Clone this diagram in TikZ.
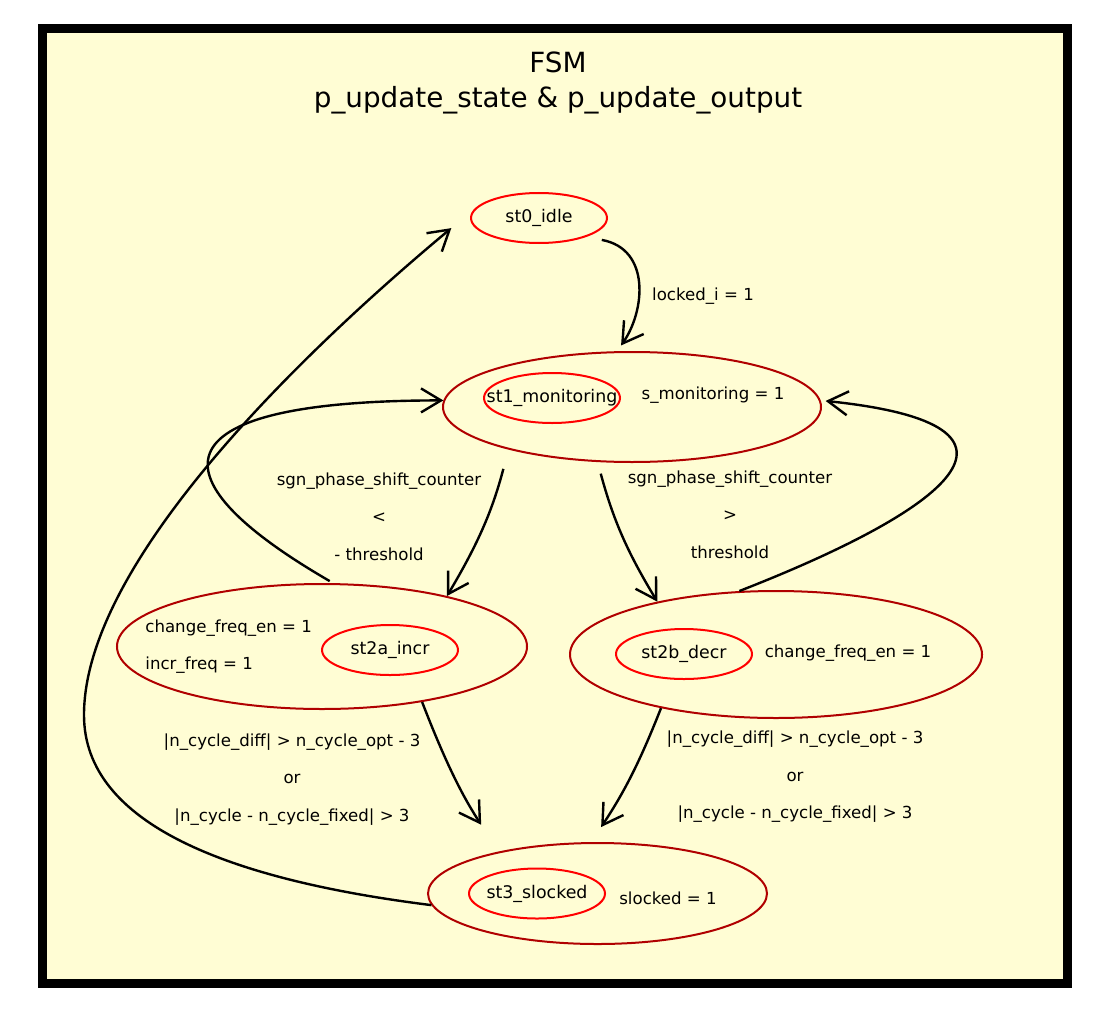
\documentclass[tikz,border=0pt]{standalone}
\usepackage{fontspec}
\setmainfont{DejaVu Sans}
\definecolor{fsmBg}{HTML}{FFFDD4}
\definecolor{fsmRed}{HTML}{FF0000}
\definecolor{fsmDark}{HTML}{B00000}
\usetikzlibrary{arrows.meta,shapes.geometric}

\tikzset{
  stName/.style={ellipse, draw=fsmRed, line width=1pt, minimum width=68pt, minimum height=25pt,
    inner xsep=-12pt, inner ysep=0pt, font=\fontsize{8.7}{10}\selectfont},
  stBox/.style={ellipse, draw=fsmDark, line width=1pt, inner sep=0pt},
  outTxt/.style={inner sep=0pt, align=left, font=\fontsize{8.3}{18.5}\selectfont},
  condTxt/.style={inner sep=0pt, align=center, font=\fontsize{8.3}{18.75}\selectfont},
  trans/.style={line width=1.2pt, -{Straight Barb[length=10pt,width=12pt,line width=1.2pt]}},
}

\begin{document}
\begin{tikzpicture}[x=0.5pt, y=-0.5pt]
  \useasboundingbox (0,0) rectangle (1106,1027);
  % frame + title
  \draw[line width=4.5pt, fill=fsmBg] (42.5,28.5) rectangle (1067.5,983);
  \node[align=center, font=\fontsize{13.9}{17.5}\selectfont] (title) at (558,83) {FSM\\p\_update\_state \& p\_update\_output};

  % states
  \node[stName] (st0) at (539,218) {st0\_idle};

  \node[stBox, minimum width=189pt, minimum height=55pt] (st1Out) at (632,407) {};
  \node[stName] (st1) at (552,398) {st1\_monitoring};
  \node[outTxt] (st1Set) at (713,395) {s\_monitoring = 1};

  \node[stBox, minimum width=205pt, minimum height=62.5pt] (st2aOut) at (322,646.5) {};
  \node[stName] (st2a) at (390,650) {st2a\_incr};
  \node[outTxt, anchor=west] (st2aSet) at (145,646.5) {change\_freq\_en = 1\\incr\_freq = 1};

  \node[stBox, minimum width=206pt, minimum height=63.5pt] (st2bOut) at (776,654.5) {};
  \node[stName] (st2b) at (684,654) {st2b\_decr};
  \node[outTxt] (st2bSet) at (848,653) {change\_freq\_en = 1};

  \node[stBox, minimum width=169.5pt, minimum height=50.5pt] (st3Out) at (597.5,893.5) {};
  \node[stName] (st3) at (537,893.5) {st3\_slocked};
  \node[outTxt] (st3Set) at (668,898) {slocked = 1};

  % transitions
  \draw[trans, shorten <=8pt, shorten >=3.5pt] (st0.-22) .. controls +(65,12) and +(28,-40) .. (st1Out.105);
  \draw[trans, shorten <=10pt] (st1Out.-161) to[bend left=8] (st2aOut.22);
  \draw[trans, shorten <=6pt] (st1Out.-122) to[bend right=8] (st2bOut.156);
  \draw[trans, shorten <=2pt] (st2aOut.80) .. controls +(-190,-110) and +(-280,0) .. (st1Out.178);
  \draw[trans, shorten >=2.5pt] (st2bOut.120) .. controls +(205,-80) and +(240,25) .. (st1Out.2);
  \draw[trans, shorten >=16pt] (st2aOut.-29) to[bend right=6] (st3Out.157);
  \draw[trans, shorten >=9pt] (st2bOut.-155) to[bend left=6] (st3Out.97);
  \draw[trans, shorten >=15pt] (st3Out.184) .. controls +(-200,-25) and +(0,110) .. (84,715)
    .. controls +(0,-150) and +(-180,150) .. (st0.172);

  % conditions
  \node[condTxt] (c01) at (703,296) {locked\_i = 1};
  \node[condTxt] (c12a) at (379,516.5) {sgn\_phase\_shift\_counter\\<\\- threshold};
  \node[condTxt] (c12b) at (730,514.5) {sgn\_phase\_shift\_counter\\>\\threshold};
  \node[condTxt] (c23a) at (292,779.5) {|n\_cycle\_diff| > n\_cycle\_opt - 3\\or\\|n\_cycle - n\_cycle\_fixed| > 3};
  \node[condTxt] (c23b) at (795,777) {|n\_cycle\_diff| > n\_cycle\_opt - 3\\or\\|n\_cycle - n\_cycle\_fixed| > 3};
\end{tikzpicture}
\end{document}
